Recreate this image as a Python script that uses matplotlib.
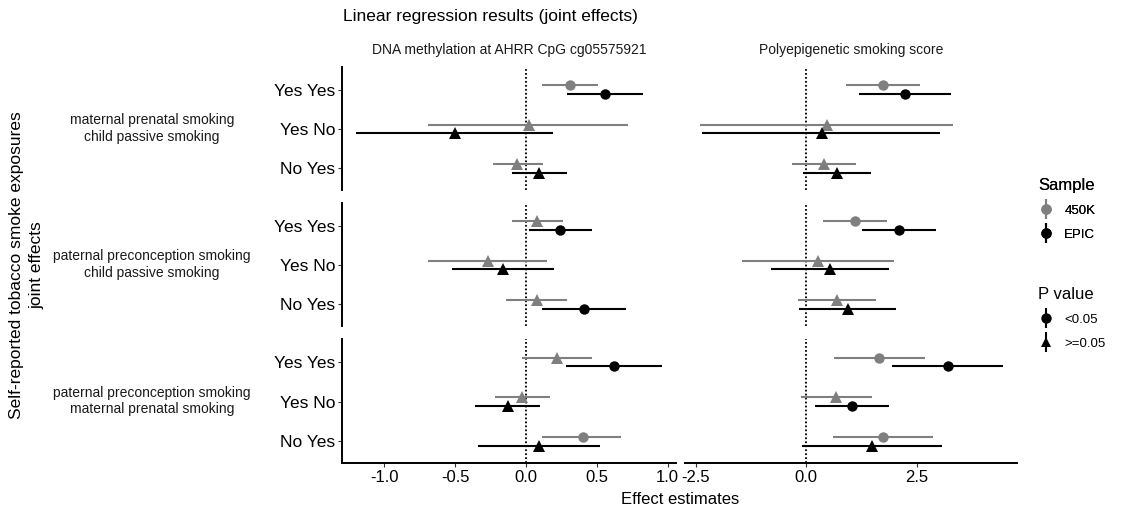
"""
Forest plot of joint-effect linear regression results (AHRR CpG + polyepigenetic score).
ggplot-like facet grid rebuilt with plain matplotlib axes.
"""

import matplotlib.pyplot as plt
from matplotlib.lines import Line2D
from matplotlib.legend_handler import HandlerTuple

GREY = "#7F7F7F"
BLACK = "#000000"
TXT = "#1A1A1A"

plt.rcParams.update({
    "font.family": ["Liberation Sans", "DejaVu Sans"],
    "font.size": 12,
})

# ---------------------------------------------------------------------------
# data
# ---------------------------------------------------------------------------
groups = [
    "maternal prenatal smoking\nchild passive smoking",
    "paternal preconception smoking\nchild passive smoking",
    "paternal preconception smoking\nmaternal prenatal smoking",
]
combos = ["Yes Yes", "Yes No", "No Yes"]
samples = ["450K", "EPIC"]
outcomes = ["DNA methylation at AHRR CpG cg05575921", "Polyepigenetic smoking score"]

# order: group 1 (Yes Yes, Yes No, No Yes), group 2 (...), group 3 (...)
ahrr_450k_est = [0.31, 0.02, -0.06, 0.08, -0.27, 0.08, 0.22, -0.03, 0.40]
ahrr_450k_lo = [0.11, -0.69, -0.23, -0.10, -0.69, -0.14, -0.03, -0.22, 0.11]
ahrr_450k_hi = [0.51, 0.72, 0.12, 0.26, 0.15, 0.29, 0.47, 0.17, 0.67]
ahrr_450k_sig = [True, False, False, False, False, False, False, False, True]

ahrr_epic_est = [0.56, -0.50, 0.09, 0.24, -0.16, 0.41, 0.62, -0.13, 0.09]
ahrr_epic_lo = [0.29, -1.20, -0.10, 0.02, -0.52, 0.11, 0.28, -0.36, -0.34]
ahrr_epic_hi = [0.83, 0.19, 0.29, 0.47, 0.20, 0.71, 0.96, 0.10, 0.52]
ahrr_epic_sig = [True, False, False, True, False, True, True, False, False]

score_450k_est = [1.73, 0.47, 0.41, 1.10, 0.26, 0.70, 1.65, 0.67, 1.73]
score_450k_lo = [0.91, -2.40, -0.31, 0.38, -1.46, -0.18, 0.64, -0.11, 0.60]
score_450k_hi = [2.58, 3.32, 1.13, 1.84, 1.98, 1.58, 2.68, 1.48, 2.87]
score_450k_sig = [True, False, False, True, False, False, True, False, True]

score_epic_est = [2.23, 0.35, 0.69, 2.10, 0.55, 0.94, 3.21, 1.03, 1.49]
score_epic_lo = [1.19, -2.35, -0.06, 1.27, -0.79, -0.17, 1.95, 0.19, -0.09]
score_epic_hi = [3.27, 3.03, 1.46, 2.94, 1.88, 2.04, 4.46, 1.88, 3.07]
score_epic_sig = [True, False, False, True, False, False, True, True, False]

series = {
    (0, "450K"): (ahrr_450k_est, ahrr_450k_lo, ahrr_450k_hi, ahrr_450k_sig),
    (0, "EPIC"): (ahrr_epic_est, ahrr_epic_lo, ahrr_epic_hi, ahrr_epic_sig),
    (1, "450K"): (score_450k_est, score_450k_lo, score_450k_hi, score_450k_sig),
    (1, "EPIC"): (score_epic_est, score_epic_lo, score_epic_hi, score_epic_sig),
}
sample_colors = {"450K": GREY, "EPIC": BLACK}
dodge = {"450K": -0.11, "EPIC": 0.11}

xlims = [(-1.30, 1.06), (-2.74, 4.77)]
xticks = [[-1.0, -0.5, 0.0, 0.5, 1.0], [-2.5, 0.0, 2.5]]

# ---------------------------------------------------------------------------
# layout in pixels (figure is 1125 x 508)
# ---------------------------------------------------------------------------
W, H = 1125, 508
col_x = [(342, 676), (685, 1017)]
row_y = [(67, 190), (203, 326), (339, 463)]

fig = plt.figure(figsize=(W / 100, H / 100), dpi=100)


def px_rect(x0, x1, y0, y1):
    return [x0 / W, 1 - y1 / H, (x1 - x0) / W, (y1 - y0) / H]


for r, (y0, y1) in enumerate(row_y):
    for c, (x0, x1) in enumerate(col_x):
        ax = fig.add_axes(px_rect(x0, x1, y0, y1))
        for s in samples:
            est, lo, hi, sig = series[(c, s)]
            col = sample_colors[s]
            for k in range(3):
                i = r * 3 + k
                y = k + dodge[s]
                ax.plot([lo[i], hi[i]], [y, y], color=col, lw=1.5,
                        solid_capstyle="butt", zorder=2)
                ax.plot(est[i], y, marker="o" if sig[i] else "^", color=col,
                        markersize=7.5 if sig[i] else 8, markeredgewidth=0,
                        zorder=3)
        ax.axvline(0, color=BLACK, linestyle=(0, (1, 1.2)), lw=1.3, zorder=1)
        ax.set_xlim(*xlims[c])
        ax.set_ylim(2.55, -0.58)
        for sp in ["top", "right"]:
            ax.spines[sp].set_visible(False)
        ax.spines["left"].set_linewidth(1.4)
        ax.spines["bottom"].set_linewidth(1.4)

        if c == 0:
            ax.set_yticks(range(3))
            ax.set_yticklabels(combos, fontsize=12.5, color=BLACK)
            ax.tick_params(axis="y", length=3, width=0.8, color="#333333", pad=2)
        else:
            ax.spines["left"].set_visible(False)
            ax.set_yticks([])

        if r == len(row_y) - 1:
            ax.set_xticks(xticks[c])
            ax.set_xticklabels([f"{v:.1f}" for v in xticks[c]], fontsize=12,
                               color=BLACK)
            ax.tick_params(axis="x", length=3, width=0.8, color="#333333", pad=2)
        else:
            ax.spines["bottom"].set_visible(False)
            ax.set_xticks([])

    # row strip label (outside, left)
    fig.text(152 / W, 1 - ((y0 + y1) / 2) / H, groups[r], ha="center",
             va="center", fontsize=10, color=TXT, linespacing=1.2)

# column strip labels
for c, (x0, x1) in enumerate(col_x):
    fig.text(((x0 + x1) / 2) / W, 1 - 50 / H, outcomes[c], ha="center",
             va="center", fontsize=10, color=TXT)

fig.text(343 / W, 1 - 16 / H, "Linear regression results (joint effects)",
         ha="left", va="center", fontsize=12.5, color=BLACK)
fig.text(680 / W, 1 - 499 / H, "Effect estimates", ha="center", va="center",
         fontsize=12, color=BLACK)
fig.text(27 / W, 1 - 265 / H, "Self-reported tobacco smoke exposures\njoint effects",
         ha="center", va="center", rotation=90, fontsize=12.5, color=BLACK,
         linespacing=1.45)

# legends
def key(color, marker):
    return (Line2D([], [], color=color, marker="|", markersize=15,
                   markeredgewidth=1.5, linestyle=""),
            Line2D([], [], color=color, marker=marker, markersize=7.5,
                   markeredgewidth=0, linestyle=""))


leg1 = fig.legend([key(GREY, "o"), key(BLACK, "o")], samples,
                  handler_map={tuple: HandlerTuple(ndivide=1)},
                  title="Sample", loc="upper left",
                  bbox_to_anchor=(1026 / W, 1 - 166 / H), frameon=False,
                  fontsize=9.5, title_fontsize=12, handlelength=1.2,
                  handletextpad=0.8, labelspacing=0.9, alignment="left")
fig.add_artist(leg1)
fig.legend([key(BLACK, "o"), key(BLACK, "^")], ["<0.05", ">=0.05"],
           handler_map={tuple: HandlerTuple(ndivide=1)},
           title="P value", loc="upper left",
           bbox_to_anchor=(1026 / W, 1 - 275 / H), frameon=False,
           fontsize=9.5, title_fontsize=12, handlelength=1.2,
           handletextpad=0.8, labelspacing=0.9, alignment="left")

fig.savefig("out.png", dpi=100, facecolor="white")
